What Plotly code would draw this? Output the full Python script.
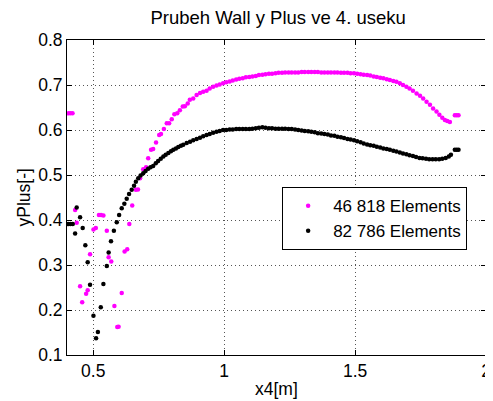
import plotly.graph_objects as go

# Series 1: 46 818 Elements (magenta)
x_46818 = [0.405, 0.413, 0.421, 0.431, 0.437, 0.450, 0.458, 0.473, 0.479, 0.488, 0.501, 0.510,
           0.522, 0.530, 0.539, 0.552, 0.559, 0.569, 0.581, 0.592, 0.597, 0.609, 0.620, 0.630,
           0.638, 0.649,
           0.663, 0.671, 0.679, 0.691, 0.702, 0.710, 0.721, 0.729, 0.740, 0.752, 0.759, 0.770,
           0.781, 0.790, 0.800, 0.810, 0.821, 0.831, 0.842, 0.850, 0.861, 0.869, 0.882, 0.895,
           0.908, 0.920, 0.933, 0.945, 0.958, 0.971, 0.983, 0.996, 1.008, 1.021, 1.033, 1.046,
           1.058, 1.071, 1.083, 1.096, 1.108, 1.121, 1.133, 1.146, 1.158, 1.171, 1.183, 1.196,
           1.208, 1.221, 1.233, 1.246, 1.258, 1.271, 1.283, 1.296, 1.308, 1.321, 1.333, 1.346,
           1.358, 1.371, 1.383, 1.396, 1.408, 1.421, 1.433, 1.446, 1.458, 1.471, 1.483, 1.496,
           1.508, 1.521, 1.533, 1.546, 1.558, 1.571, 1.583, 1.596, 1.608, 1.621, 1.633, 1.646,
           1.658, 1.671, 1.683, 1.696, 1.708, 1.721, 1.735, 1.748, 1.760, 1.773, 1.786, 1.798,
           1.811, 1.822, 1.833, 1.843, 1.852, 1.862, 1.881, 1.888, 1.895]
y_46818 = [0.637, 0.637, 0.637, 0.422, 0.394, 0.253, 0.217, 0.236, 0.244, 0.324, 0.379, 0.382,
           0.411, 0.411, 0.410, 0.376, 0.317, 0.308, 0.209, 0.162, 0.163, 0.238, 0.330, 0.335,
           0.391, 0.432,
           0.467, 0.468, 0.493, 0.513, 0.517, 0.537, 0.556, 0.558, 0.572, 0.589, 0.591, 0.602,
           0.615, 0.615, 0.624, 0.635, 0.637, 0.644, 0.652, 0.653, 0.659, 0.667, 0.670, 0.678,
           0.682, 0.685, 0.687, 0.692, 0.696, 0.699, 0.701, 0.704, 0.706, 0.708, 0.710, 0.712,
           0.714, 0.715, 0.717, 0.718, 0.719, 0.720, 0.722, 0.723, 0.724, 0.725, 0.725, 0.726,
           0.727, 0.727, 0.728, 0.728, 0.728, 0.728, 0.728, 0.729, 0.729, 0.729, 0.729, 0.729,
           0.729, 0.728, 0.728, 0.728, 0.728, 0.728, 0.728, 0.727, 0.727, 0.727, 0.726, 0.726,
           0.725, 0.724, 0.723, 0.722, 0.721, 0.719, 0.718, 0.716, 0.715, 0.713, 0.711, 0.709,
           0.707, 0.704, 0.700, 0.696, 0.692, 0.687, 0.681, 0.676, 0.670, 0.663, 0.656, 0.648,
           0.641, 0.634, 0.627, 0.622, 0.620, 0.618, 0.633, 0.633, 0.633]

# Series 2: 82 786 Elements (black)
x_82786 = [0.405, 0.413, 0.422, 0.431, 0.437, 0.450, 0.460, 0.470, 0.479, 0.488, 0.501, 0.511,
           0.518, 0.529, 0.539, 0.552, 0.559, 0.568, 0.579, 0.590, 0.599, 0.609, 0.619, 0.628,
           0.637, 0.647, 0.656, 0.663,
           0.672, 0.681, 0.691, 0.700, 0.710, 0.719, 0.729, 0.739, 0.748, 0.758, 0.768, 0.777,
           0.787, 0.797, 0.806, 0.816, 0.825, 0.835, 0.844, 0.857, 0.870, 0.882, 0.895, 0.908,
           0.920, 0.933, 0.945, 0.958, 0.971, 0.983, 0.996, 1.008, 1.021, 1.033, 1.046, 1.058,
           1.071, 1.083, 1.096, 1.108, 1.121, 1.133, 1.146, 1.158, 1.171, 1.183, 1.196, 1.208,
           1.221, 1.233, 1.246, 1.258, 1.271, 1.283, 1.296, 1.308, 1.321, 1.333, 1.346, 1.358,
           1.371, 1.383, 1.396, 1.408, 1.421, 1.433, 1.446, 1.458, 1.471, 1.483, 1.496, 1.508,
           1.521, 1.533, 1.546, 1.558, 1.571, 1.583, 1.596, 1.608, 1.621, 1.633, 1.646, 1.658,
           1.671, 1.683, 1.696, 1.708, 1.721, 1.733, 1.746, 1.758, 1.771, 1.783, 1.796, 1.808,
           1.821, 1.833, 1.846, 1.858, 1.866, 1.881, 1.888, 1.895]
y_82786 = [0.391, 0.391, 0.391, 0.370, 0.428, 0.406, 0.382, 0.344, 0.306, 0.256, 0.187, 0.137,
           0.151, 0.206, 0.258, 0.298, 0.328, 0.353, 0.376, 0.395, 0.411, 0.426, 0.436, 0.447,
           0.458, 0.467, 0.476, 0.485,
           0.493, 0.499, 0.504, 0.509, 0.514, 0.517, 0.520, 0.526, 0.531, 0.536, 0.541, 0.545,
           0.549, 0.553, 0.556, 0.559, 0.562, 0.565, 0.567, 0.571, 0.574, 0.577, 0.580, 0.583,
           0.586, 0.589, 0.591, 0.594, 0.596, 0.598, 0.600, 0.600, 0.601, 0.601, 0.602, 0.602,
           0.602, 0.602, 0.602, 0.603, 0.604, 0.605, 0.606, 0.605, 0.604, 0.604, 0.603, 0.603,
           0.603, 0.603, 0.602, 0.602, 0.601, 0.600, 0.599, 0.598, 0.597, 0.596, 0.595, 0.593,
           0.592, 0.591, 0.590, 0.588, 0.587, 0.585, 0.584, 0.582, 0.580, 0.579, 0.577, 0.575,
           0.573, 0.570, 0.568, 0.566, 0.565, 0.563, 0.561, 0.559, 0.558, 0.556, 0.554, 0.552,
           0.550, 0.548, 0.546, 0.544, 0.542, 0.540, 0.538, 0.537, 0.536, 0.535, 0.535, 0.535,
           0.535, 0.536, 0.538, 0.541, 0.545, 0.556, 0.556, 0.556]

x_ticks = [0.5, 1, 1.5, 2]
x_tick_labels = ["0.5", "1", "1.5", "2"]
y_ticks = [0.1, 0.2, 0.3, 0.4, 0.5, 0.6, 0.7, 0.8]
y_tick_labels = ["0.1", "0.2", "0.3", "0.4", "0.5", "0.6", "0.7", "0.8"]

FONT = "Liberation Sans, Arial, sans-serif"

fig = go.Figure()
fig.add_trace(go.Scatter(x=x_46818, y=y_46818, mode="markers", name="46 818 Elements",
                         marker=dict(color="#FF00FF", size=4.5, symbol="circle")))
fig.add_trace(go.Scatter(x=x_82786, y=y_82786, mode="markers", name="82 786 Elements",
                         marker=dict(color="#000000", size=4.5, symbol="circle")))

axis_common = dict(
    showline=True, linecolor="black", linewidth=1, mirror="ticks",
    ticks="inside", ticklen=5, tickcolor="black",
    showgrid=True, gridcolor="#555555", griddash="1px,3px", gridwidth=1,
    zeroline=False, automargin=False,
    tickfont=dict(family=FONT, size=17.5, color="black"),
)

fig.update_layout(
    width=485, height=393,
    margin=dict(l=59, r=7, t=32, b=46),
    paper_bgcolor="white", plot_bgcolor="white",
    title=dict(text="Prubeh Wall y Plus ve 4. useku", x=0.557, xanchor="center",
               y=0.977, yanchor="middle",
               font=dict(family=FONT, size=18.5, color="black")),
    xaxis=dict(range=[0.4, 2], tickvals=x_ticks, ticktext=x_tick_labels, **axis_common),
    yaxis=dict(range=[0.1, 0.8], tickvals=y_ticks, ticktext=y_tick_labels, **axis_common),
    annotations=[
        dict(text="x4[m]", x=0.5, y=-0.108, xref="paper", yref="paper",
             xanchor="center", yanchor="middle", showarrow=False,
             font=dict(family=FONT, size=17.5, color="black")),
        dict(text="yPlus[-]", x=-0.105, y=0.5, xref="paper", yref="paper",
             xanchor="center", yanchor="middle", showarrow=False, textangle=-90,
             font=dict(family=FONT, size=17.5, color="black")),
    ],
    legend=dict(x=0.955, xanchor="right", y=0.533, yanchor="top",
                bgcolor="white", bordercolor="black", borderwidth=1,
                font=dict(family=FONT, size=17, color="black"),
                itemwidth=40, itemsizing="trace", tracegroupgap=0),
    showlegend=True,
)

fig.write_html("out.html")
